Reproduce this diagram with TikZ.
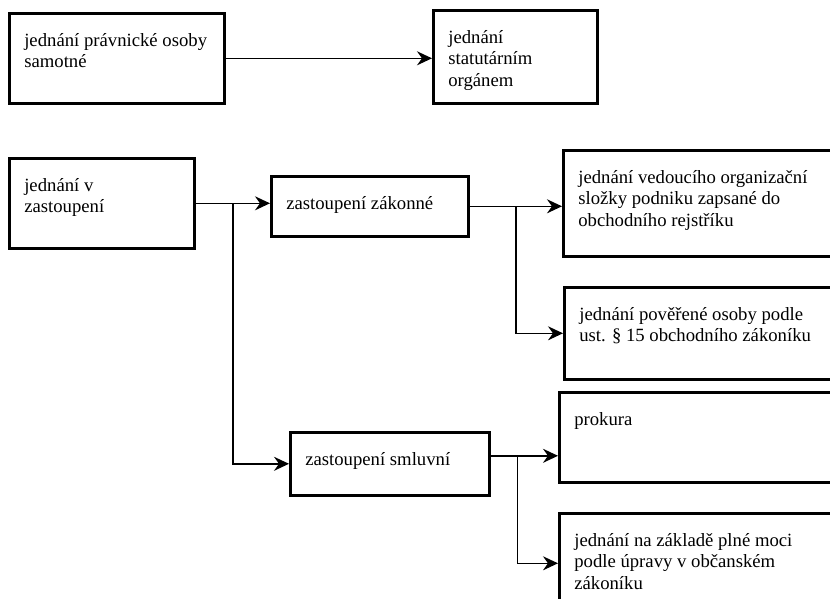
\documentclass[tikz,border=0pt]{standalone}
\usepackage{fontspec}
\setmainfont{Liberation Serif}
\usetikzlibrary{positioning,arrows.meta,calc}
\newcommand{\cell}[3]{\parbox[t][#2][t]{#1}{\rule{0pt}{33pt}#3}}
\tikzset{
  box/.style  ={draw=black, line width=2.6pt, anchor=north west, inner xsep=15pt,
                inner ysep=0pt, font=\fontsize{18.7}{21.5}\selectfont},
  flow/.style ={-{Stealth[length=15pt, width=14pt, inset=5pt]}, line width=1.5pt, draw=black},
}

\begin{document}
\begin{tikzpicture}[x=1pt, y=-1pt]
  \clip (0,0) rectangle (830,599);
  % top row
  \node[box] (self) at (8,12) {\cell{185pt}{90pt}{jednání právnické osoby\\samotné}};
  \node[box] (organ) at (432,9) {\cell{134pt}{93pt}{jednání\\statutárním\\orgánem}};
  % representation
  \node[box] (repr) at (8,157) {\cell{155pt}{90pt}{jednání v\\zastoupení}};
  \node[box] (legal) at (270,175) {\cell{167pt}{60pt}{zastoupení zákonné}};
  \node[box] (branch) at (562,149) {\cell{255pt}{106pt}{jednání vedoucího organizační\\složky podniku zapsané do\\obchodního rejstříku}};
  \node[box] (deleg) at (563,286) {\cell{255pt}{92pt}{jednání pověřené osoby podle\\ust. § 15 obchodního zákoníku}};
  \node[box] (contract) at (289,431) {\cell{169pt}{63pt}{zastoupení smluvní}};
  \node[box] (proc) at (558,391) {\cell{260pt}{90pt}{prokura}};
  \node[box] (power) at (558,512) {\cell{260pt}{100pt}{jednání na základě plné moci\\podle úpravy v občanském\\zákoníku}};

  % flows
  \draw[flow] (self.east) -- (self.east -| organ.west);
  \draw[flow] (repr.east) -- (repr.east -| legal.west);
  \coordinate (reprfork) at ($(repr.east)!0.5!(repr.east -| legal.west)$);
  \draw[flow] (reprfork) |- (contract.west);
  \draw[flow] (legal.east) -- (legal.east -| branch.west);
  \coordinate (legalfork) at ($(legal.east)!0.5!(legal.east -| branch.west)$);
  \draw[flow] (legalfork) |- (deleg.west);
  \coordinate (controut) at ([yshift=8pt]contract.east);
  \draw[flow] (controut) -- (controut -| proc.west);
  \coordinate (contrfork) at ($(controut)!0.4!(controut -| proc.west)$);
  \draw[flow] (contrfork) |- (power.west);
\end{tikzpicture}
\end{document}
